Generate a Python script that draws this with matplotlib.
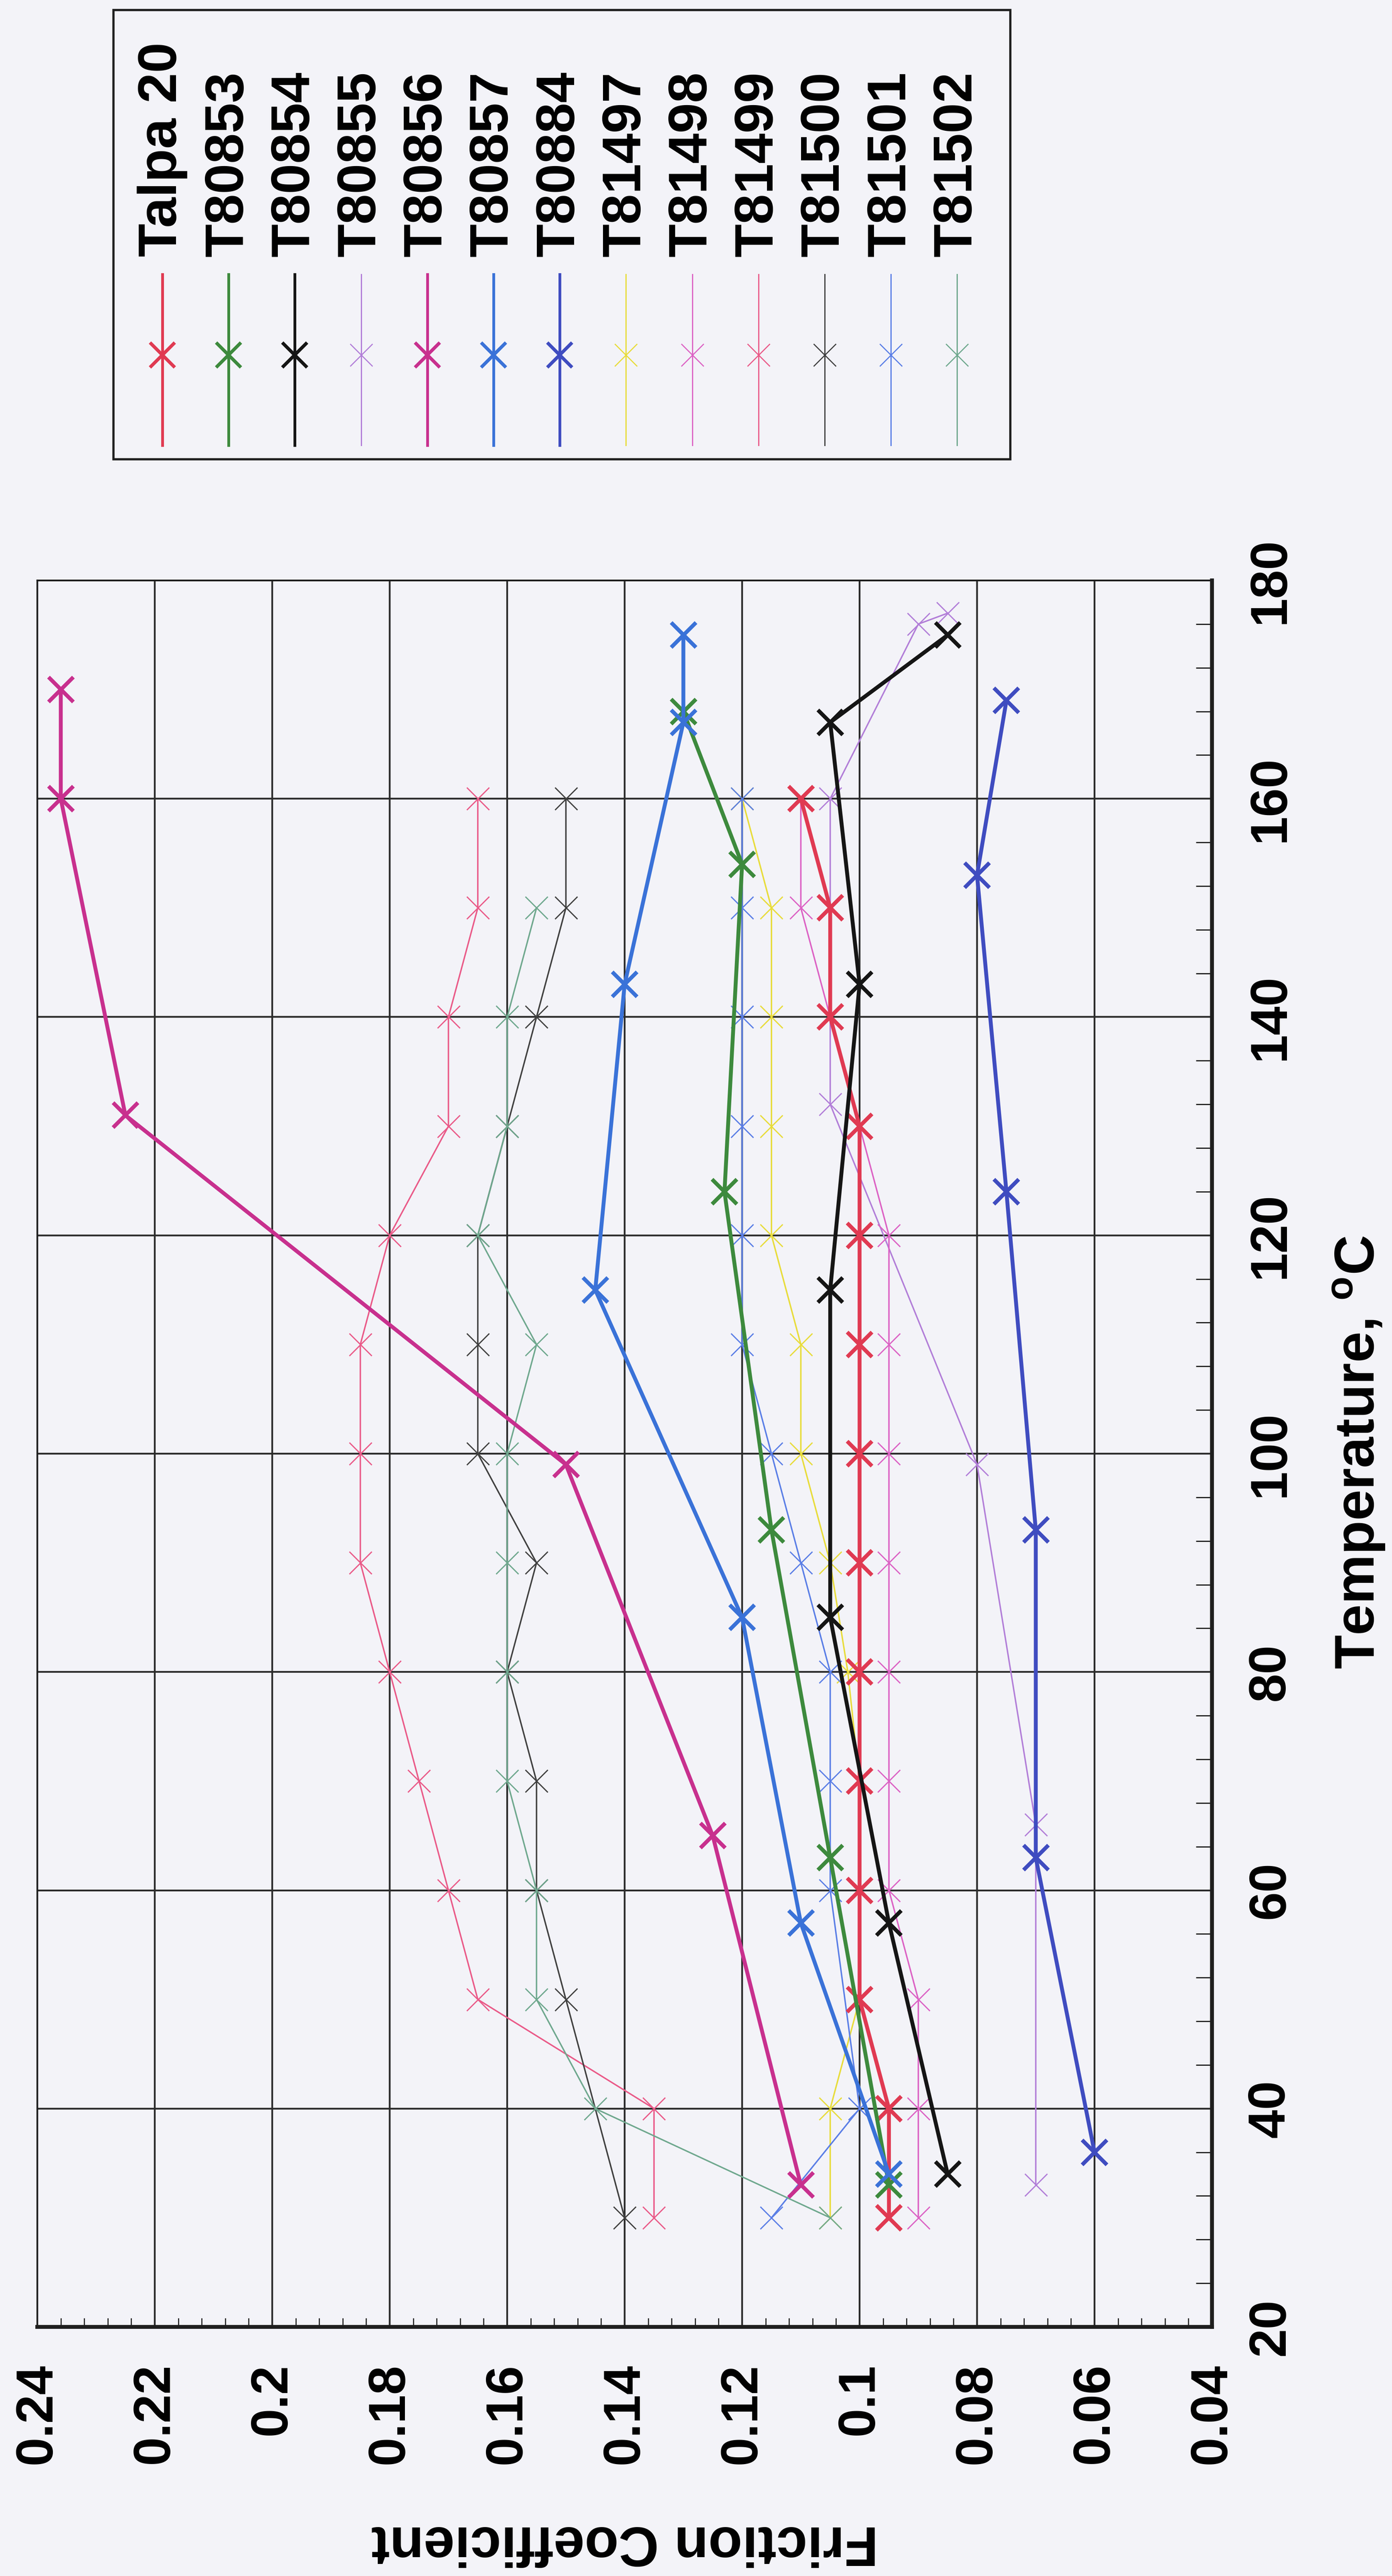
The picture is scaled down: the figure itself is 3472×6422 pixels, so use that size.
# -----------------------------------------------------------------------------
# Friction coefficient vs temperature (scanned chart, page turned 90 deg CCW)
# -----------------------------------------------------------------------------
import matplotlib.pyplot as plt
from matplotlib.ticker import MultipleLocator, AutoMinorLocator, FuncFormatter
from matplotlib.lines import Line2D
from matplotlib.patches import Rectangle

# -----------------------------------------------------------------------------
# Data (temperature in oC, friction coefficient)
# -----------------------------------------------------------------------------
names = ['Talpa 20', 'T80853', 'T80854', 'T80855', 'T80856', 'T80857', 'T80884',
         'T81497', 'T81498', 'T81499', 'T81500', 'T81501', 'T81502']

t_talpa20 = [30, 40, 50, 60, 70, 80, 90, 100, 110, 120, 130, 140, 150, 160]
f_talpa20 = [0.095, 0.095, 0.10, 0.10, 0.10, 0.10, 0.10, 0.10, 0.10, 0.10, 0.10, 0.105, 0.105, 0.11]

t_80853 = [33, 63, 93, 124, 154, 168]
f_80853 = [0.095, 0.105, 0.115, 0.123, 0.12, 0.13]

t_80854 = [34, 57, 85, 115, 143, 167, 175]
f_80854 = [0.085, 0.095, 0.105, 0.105, 0.10, 0.105, 0.085]

t_80855 = [33, 66, 99, 132, 160, 176, 177]
f_80855 = [0.07, 0.07, 0.08, 0.105, 0.105, 0.09, 0.085]

t_80856 = [33, 65, 99, 131, 160, 170]
f_80856 = [0.11, 0.125, 0.15, 0.225, 0.236, 0.236]

t_80857 = [34, 57, 85, 115, 143, 167, 175]
f_80857 = [0.095, 0.11, 0.12, 0.145, 0.14, 0.13, 0.13]

t_80884 = [36, 63, 93, 124, 153, 169]
f_80884 = [0.06, 0.07, 0.07, 0.075, 0.08, 0.075]

t_81497 = [30, 40, 50, 60, 70, 80, 90, 100, 110, 120, 130, 140, 150, 160]
f_81497 = [0.105, 0.105, 0.10, 0.10, 0.10, 0.102, 0.105, 0.11, 0.11, 0.115, 0.115, 0.115, 0.115, 0.12]

t_81498 = [30, 40, 50, 60, 70, 80, 90, 100, 110, 120, 130, 140, 150, 160]
f_81498 = [0.09, 0.09, 0.09, 0.095, 0.095, 0.095, 0.095, 0.095, 0.095, 0.095, 0.10, 0.105, 0.11, 0.11]

t_81499 = [30, 40, 50, 60, 70, 80, 90, 100, 110, 120, 130, 140, 150, 160]
f_81499 = [0.135, 0.135, 0.165, 0.17, 0.175, 0.18, 0.185, 0.185, 0.185, 0.18, 0.17, 0.17, 0.165, 0.165]

t_81500 = [30, 50, 60, 70, 80, 90, 100, 110, 120, 130, 140, 150, 160]
f_81500 = [0.14, 0.15, 0.155, 0.155, 0.16, 0.155, 0.165, 0.165, 0.165, 0.16, 0.155, 0.15, 0.15]

t_81501 = [30, 40, 60, 70, 80, 90, 100, 110, 120, 130, 140, 150, 160]
f_81501 = [0.115, 0.10, 0.105, 0.105, 0.105, 0.11, 0.115, 0.12, 0.12, 0.12, 0.12, 0.12, 0.12]

t_81502 = [30, 40, 50, 60, 70, 80, 90, 100, 110, 120, 130, 140, 150]
f_81502 = [0.105, 0.145, 0.155, 0.155, 0.16, 0.16, 0.16, 0.16, 0.155, 0.165, 0.16, 0.16, 0.155]

temps = [t_talpa20, t_80853, t_80854, t_80855, t_80856, t_80857, t_80884,
         t_81497, t_81498, t_81499, t_81500, t_81501, t_81502]
frics = [f_talpa20, f_80853, f_80854, f_80855, f_80856, f_80857, f_80884,
         f_81497, f_81498, f_81499, f_81500, f_81501, f_81502]

colors = ['#e03a52', '#3d8a3d', '#151515', '#b27ed8', '#c8308e', '#3a72d8', '#3f4cc0',
          '#e8dc3a', '#dc62c4', '#ea5a88', '#404040', '#5a7ee6', '#6fa88e']
bold = [True, True, True, False, True, True, True,
        False, False, False, False, False, False]

fric_ticks = [0.04, 0.06, 0.08, 0.10, 0.12, 0.14, 0.16, 0.18, 0.20, 0.22, 0.24]
temp_ticks = [20, 40, 60, 80, 100, 120, 140, 160, 180]

# -----------------------------------------------------------------------------
# Figure setup
# -----------------------------------------------------------------------------
W, H = 3472, 6422     # pixels
bg = '#f3f3f8'

plt.rcParams['font.family'] = ['Liberation Sans', 'DejaVu Sans']
plt.rcParams['font.weight'] = 'bold'
plt.rcParams['mathtext.fontset'] = 'custom'
plt.rcParams['mathtext.rm'] = 'Liberation Sans:bold'
plt.rcParams['mathtext.bf'] = 'Liberation Sans:bold'

fig = plt.figure(figsize=(W / 100, H / 100), dpi=100, facecolor=bg)

def fx(px):
    return px / W

def fy(py):
    return 1 - py / H

ax = fig.add_axes([fx(93), fy(5801), fx(3023) - fx(93), fy(1447) - fy(5801)])
ax.set_facecolor(bg)

# friction on the horizontal axis (reversed), temperature vertical on the right
for t, f, c, b in zip(temps, frics, colors, bold):
    if b:
        ax.plot(f, t, color=c, lw=7, marker='x', ms=45, mew=7, zorder=3)
    else:
        ax.plot(f, t, color=c, lw=2.6, marker='x', ms=40, mew=2.2, zorder=2)

ax.set_xlim(0.24, 0.04)
ax.set_ylim(20, 180)
ax.set_xticks(fric_ticks)
ax.set_yticks(temp_ticks)
ax.xaxis.set_minor_locator(AutoMinorLocator(5))
ax.yaxis.set_minor_locator(AutoMinorLocator(5))
ax.xaxis.set_major_formatter(FuncFormatter(lambda v, p: ('%.2f' % v).rstrip('0')))
ax.yaxis.tick_right()

ax.grid(True, which='major', color='#2b2b2b', lw=3.2)
ax.set_axisbelow(True)

ax.tick_params(axis='x', which='both', direction='in', bottom=True, top=False,
               labelrotation=90, labelsize=93, pad=65, color='#222222')
ax.tick_params(axis='x', which='minor', length=16, width=2)
ax.tick_params(axis='x', which='major', length=0)
ax.tick_params(axis='y', which='both', direction='in', right=True, left=False,
               labelrotation=90, labelsize=93, pad=62, color='#222222')
ax.tick_params(axis='y', which='minor', length=29, width=2.2)
ax.tick_params(axis='y', which='major', length=0)
plt.setp(ax.get_yticklabels(), va='center', ha='left')

for side in ['top', 'left']:
    ax.spines[side].set_linewidth(3)
for side in ['bottom', 'right']:
    ax.spines[side].set_linewidth(7)
for s in ax.spines.values():
    s.set_color('#1e1e1e')

# axis titles
fig.text(fx(1558), fy(6335), 'Friction Coefficient', rotation=180,
         ha='center', va='center', fontsize=100, fontweight='bold')
fig.text(fx(3389), fy(3620), r'Temperature, $^{\mathbf{o}}$C', rotation=90,
         ha='center', va='center', fontsize=100, fontweight='bold')

# -----------------------------------------------------------------------------
# Legend (drawn by hand so it can be turned like the page)
# -----------------------------------------------------------------------------
fig.add_artist(Rectangle((fx(283), fy(1145)), fx(2520) - fx(283), fy(25) - fy(1145),
                         transform=fig.transFigure, facecolor=bg,
                         edgecolor='#1e1e1e', lw=4))

for i in range(len(names)):
    xc = fx(405 + i * 165.2)
    if bold[i]:
        lw, ms, mew = 5, 45, 6
    else:
        lw, ms, mew = 2.2, 40, 2
    fig.add_artist(Line2D([xc, xc], [fy(684), fy(1110)], color=colors[i], lw=lw,
                          transform=fig.transFigure))
    fig.add_artist(Line2D([xc], [fy(885)], color=colors[i], marker='x', ms=ms,
                          mew=mew, transform=fig.transFigure))
    fig.text(xc, fy(640), names[i], rotation=90, ha='center', va='bottom',
             fontsize=98, fontweight='bold')

fig.savefig('out.png', dpi=100, facecolor=bg)
